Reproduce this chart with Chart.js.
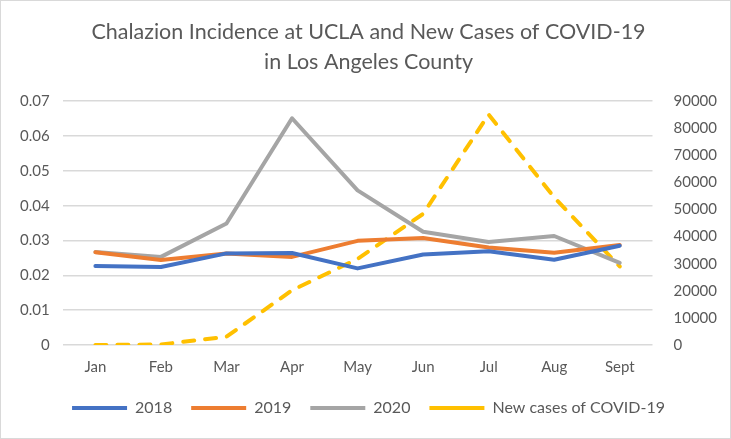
<!DOCTYPE html>
<html>
<head>
<meta charset="utf-8">
<script src="https://cdn.jsdelivr.net/npm/chart.js@4"></script>
<style>
  html,body{margin:0;padding:0;background:#fff;}
  #wrap{position:relative;width:731px;height:439px;box-sizing:border-box;border:1px solid #d9d9d9;}
  canvas{display:block;}
</style>
</head>
<body>
<div id="wrap"><canvas id="c"></canvas></div>
<script>
// 月份 + 各系列
const months = ["Jan","Feb","Mar","Apr","May","Jun","Jul","Aug","Sept"];
const inc2018 = [0.0227,0.0224,0.0263,0.0264,0.0220,0.0260,0.0269,0.0245,0.0285];
const inc2019 = [0.0266,0.0244,0.0263,0.0253,0.0299,0.0307,0.0280,0.0265,0.0287];
const inc2020 = [0.0267,0.0253,0.0349,0.0651,0.0444,0.0325,0.0296,0.0313,0.0236];
const covidCases = [0,200,3050,20200,31800,48400,85100,54500,29000];

const FONT = "Lato, 'Open Sans', sans-serif";
const TXT = "#595959";

function line(label, data, color, axis, dash){
  return {label, data, borderColor:color, backgroundColor:color, borderWidth:4,
    borderDash:dash||[], borderCapStyle:"round", borderJoinStyle:"round",
    pointRadius:0, tension:0, fill:false, yAxisID:axis};
}

new Chart(document.getElementById("c"), {
  type:"line",
  data:{labels:months, datasets:[
    line("2018", inc2018, "#4472C4", "y"),
    line("2019", inc2019, "#ED7D31", "y"),
    line("2020", inc2020, "#A5A5A5", "y"),
    line("New cases of COVID-19", covidCases, "#FFC000", "y1", [11,11]),
  ]},
  options:{
    responsive:true, maintainAspectRatio:false, animation:false,
    layout:{padding:{left:6,right:0,top:4,bottom:12}},
    plugins:{
      title:{display:true, text:["Chalazion Incidence at UCLA and New Cases of COVID-19","in Los Angeles County"],
        color:TXT, font:{family:FONT, size:21.5, weight:"normal", lineHeight:1.4}, padding:{top:12,bottom:24}},
      legend:{position:"bottom", labels:{usePointStyle:true, pointStyle:"line", pointStyleWidth:55,
        boxWidth:55, boxHeight:4, color:TXT, padding:19, font:{family:FONT, size:16}}},
      tooltip:{enabled:false}
    },
    scales:{
      x:{offset:true, grid:{display:false}, border:{display:false},
        ticks:{color:TXT, font:{family:FONT, size:15}, padding:5}},
      y:{position:"left", min:0, max:0.07, ticks:{stepSize:0.01, color:TXT, font:{family:FONT, size:15}, padding:13,
          callback:v=>String(Math.round(v*100)/100)},
        grid:{color:"#d9d9d9", lineWidth:1.5, drawTicks:false}, border:{display:false}},
      y1:{position:"right", min:0, max:90000, ticks:{stepSize:10000, color:TXT, font:{family:FONT, size:15}, padding:13,
          callback:v=>String(v)},
        grid:{display:false}, border:{display:false}}
    }
  }
});
</script>
</body>
</html>
